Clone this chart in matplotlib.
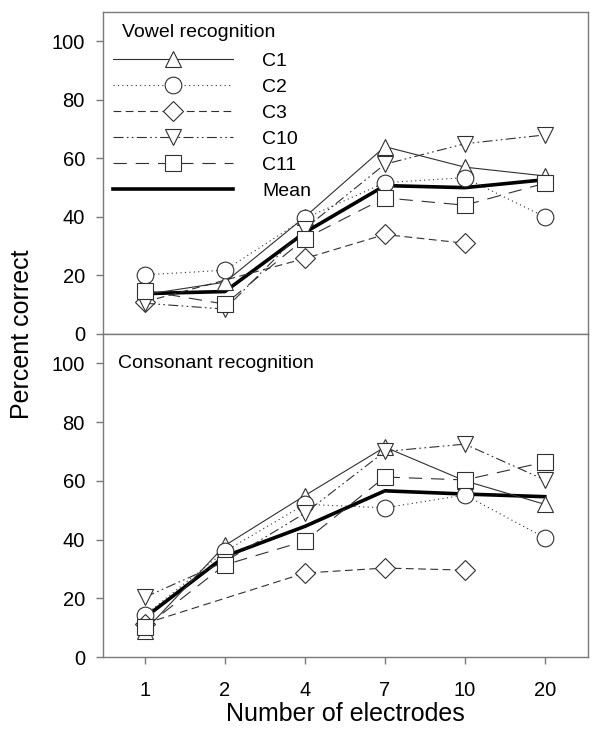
import numpy as np
import matplotlib
matplotlib.use("Agg")
import matplotlib.pyplot as plt

plt.rcParams['font.family'] = ['Liberation Sans', 'DejaVu Sans']

# x categories (number of electrodes)
x_labels = ['1', '2', '4', '7', '10', '20']

# Vowel recognition (percent correct)
vow_c1 = [13.5, 17.7, 40, 64, 57, 54]
vow_c2 = [20.2, 21.8, 39.5, 51.7, 53.4, 40]
vow_c3 = [11, np.nan, 25.8, 34, 31, np.nan]
vow_c10 = [10.5, 8.5, 36, 58, 65, 68]
vow_c11 = [14.8, 10.2, 32.6, 46.5, 44, 51.5]
vow_mean = [13.8, 14.5, 34.7, 50.7, 50, 52.7]

# Consonant recognition (percent correct)
con_c1 = [9, 38, 55, 71.5, 60, 52]
con_c2 = [14.3, 36, 52, 50.8, 55.2, 40.6]
con_c3 = [11.4, np.nan, 28.6, 30.3, 29.6, np.nan]
con_c10 = [20.4, 32.5, 49, 70, 72.5, 60.3]
con_c11 = [10.2, 31.4, 39.5, 61.3, 60.3, 66.4]
con_mean = [13.5, 34.3, 44.5, 56.6, 55.5, 54.6]

names = ['C1', 'C2', 'C3', 'C10', 'C11']
markers = ['^', 'o', 'D', 'v', 's']
msizes = [12, 12, 10, 12, 11]
dashes = [None, (1, 3), (7, 4), (9, 3, 1.5, 3, 1.5, 3), (12, 8)]

line_col = '#303030'
spine_col = '#7a7a7a'

fig = plt.figure(figsize=(6, 7.36), dpi=100)
ax_top = fig.add_axes([0.1717, 0.5462, 0.8083, 0.4375])
ax_bot = fig.add_axes([0.1717, 0.1073, 0.8083, 0.4389])

x = np.arange(len(x_labels))


def draw(ax, series, mean, title, tx, ty, legend=False):
    handles = []
    for vals, name, m, ms, d in zip(series, names, markers, msizes, dashes):
        v = np.array(vals, dtype=float)
        ok = ~np.isnan(v)
        ln, = ax.plot(x[ok], v[ok], color=line_col, lw=0.8, marker=m, ms=ms,
                      mfc='white', mec=line_col, mew=0.8, label=name, zorder=3)
        if d is not None:
            ln.set_dashes(d)
        handles.append(ln)
    mn, = ax.plot(x, mean, color='black', lw=2.6, label='Mean', zorder=2)
    handles.append(mn)

    ax.set_xlim(-0.525, 5.54)
    ax.set_ylim(0, 110)
    ax.set_yticks([0, 20, 40, 60, 80, 100])
    ax.set_xticks(x)
    ax.tick_params(axis='both', direction='out', length=5, width=1,
                   color=spine_col, labelsize=14.5)
    ax.tick_params(axis='y', pad=8)
    ax.tick_params(axis='x', pad=12)
    for s in ax.spines.values():
        s.set_color(spine_col)
        s.set_linewidth(1)
    ax.text(tx, ty, title, transform=ax.transAxes, fontsize=14,
            ha='left', va='center')
    if legend:
        ax.legend(handles=handles, loc='upper left',
                  bbox_to_anchor=(0.02, 0.875), frameon=False, fontsize=14,
                  handlelength=6.2, handletextpad=1.5, labelspacing=0.43,
                  borderpad=0, borderaxespad=0)


draw(ax_top, [vow_c1, vow_c2, vow_c3, vow_c10, vow_c11], vow_mean,
     'Vowel recognition', 0.039, 0.935, legend=True)
draw(ax_bot, [con_c1, con_c2, con_c3, con_c10, con_c11], con_mean,
     'Consonant recognition', 0.031, 0.91)

ax_top.set_xticklabels([])
ax_bot.set_xticklabels(x_labels)
ax_bot.set_xlabel('Number of electrodes', fontsize=18, labelpad=2)
fig.text(0.037, 0.546, 'Percent correct', rotation=90, fontsize=18,
         ha='center', va='center')

fig.savefig('out.png', dpi=100)
